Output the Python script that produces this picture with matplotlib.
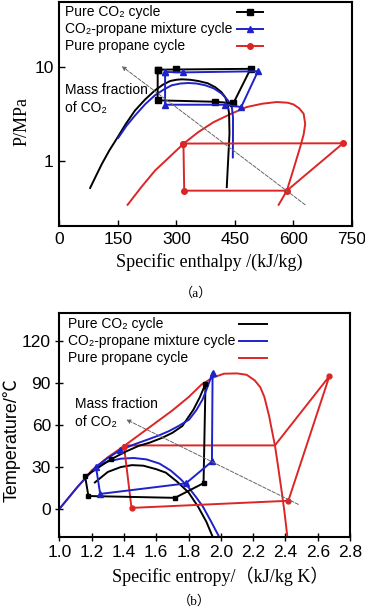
import matplotlib.pyplot as plt
from matplotlib.ticker import FixedLocator, NullLocator, FixedFormatter

plt.rcParams['font.family'] = ['Liberation Sans', 'DejaVu Sans']

SERIF = ['Liberation Serif', 'Noto Sans CJK SC']
SANS_CJK = ['Liberation Sans', 'Noto Sans CJK SC']

c_black = '#000000'
c_blue = '#1e22c8'
c_red = '#dc2626'

# ---------------- (a) P-h diagram ----------------
co2_dome_h = [79, 95, 109, 128, 147, 170, 194, 220, 245, 265, 284, 300, 314, 335, 356, 380, 399, 415, 425, 432, 435, 436, 433, 429]
co2_dome_p = [0.51, 0.7, 0.92, 1.28, 1.71, 2.45, 3.43, 4.5, 5.62, 6.45, 7.08, 7.3, 7.38, 7.3, 7.08, 6.7, 6.1, 5.4, 4.77, 3.9, 3.16, 1.93, 1.1, 0.52]

mix_dome_h = [151, 172, 194, 220, 245, 268, 288, 310, 331, 352, 374, 396, 416, 432, 442, 445, 445, 444.6]
mix_dome_p = [1.75, 2.35, 3.03, 4.0, 4.98, 5.75, 6.37, 6.65, 6.74, 6.65, 6.37, 5.9, 5.19, 4.4, 3.73, 2.9, 1.9, 1.08]

pro_dome_h = [175, 210, 245, 280, 318, 355, 395, 440, 480, 520, 557, 585, 600, 615, 626, 630, 626, 617, 600, 583, 562]
pro_dome_p = [0.337, 0.52, 0.78, 1.07, 1.51, 2.0, 2.57, 3.16, 3.73, 4.05, 4.22, 4.15, 3.98, 3.6, 3.16, 2.47, 1.9, 1.39, 0.81, 0.477, 0.337]

co2_cyc_h = [252, 298, 490, 446, 399, 252, 252]
co2_cyc_p = [9.35, 9.4, 9.55, 4.1, 4.25, 4.4, 9.35]

mix_cyc_h = [271, 318, 509, 466, 425, 271, 271]
mix_cyc_p = [8.84, 8.75, 9.0, 3.73, 3.95, 3.95, 8.84]

pro_cyc_h = [318, 727, 583, 320, 318]
pro_cyc_p = [1.52, 1.53, 0.477, 0.477, 1.52]

arrow_a_tail = (630, 0.337)
arrow_a_head = (160, 10.2)

# ---------------- (b) T-s diagram ----------------
co2_dome_s = [1.22, 1.3, 1.38, 1.45, 1.52, 1.6, 1.66, 1.73, 1.80, 1.86, 1.91, 1.95]
co2_dome_t = [19, 26.5, 30, 31.4, 31, 28.5, 26, 19.5, 11.9, 1.5, -9, -20]

mix_dome_s = [1.0, 1.11, 1.227, 1.3, 1.38, 1.46, 1.54, 1.62, 1.69, 1.75, 1.80, 1.85, 1.89, 1.94, 1.99]
mix_dome_t = [0, 15.5, 30.2, 34, 36, 36.5, 35.5, 32.5, 27.5, 21.5, 15.5, 8, 1.5, -9, -20]

pro_dome_s = [1.0, 1.1, 1.2, 1.3, 1.4, 1.5, 1.6, 1.7, 1.8, 1.88, 1.95, 2.02, 2.1, 2.16, 2.21,
              2.245, 2.27, 2.30, 2.315, 2.335, 2.35, 2.365, 2.38, 2.395, 2.412]
pro_dome_t = [0, 14, 27.5, 37, 45, 53.5, 62, 70.5, 80, 89, 94, 96.8, 97, 96, 92,
              87, 80, 66, 57, 45.5, 34, 22, 10, -3, -20]

co2_ts_s = [1.16, 1.18, 1.716, 1.893, 1.905, 1.87, 1.83, 1.762, 1.70, 1.638, 1.56, 1.492, 1.41, 1.32, 1.24, 1.16]
co2_ts_t = [23.3, 9.3, 8.0, 18.5, 89.5, 80, 71, 59.4, 54.5, 51, 47.5, 45.2, 41, 35.6, 29.5, 23.3]
co2_mark_s = [1.16, 1.18, 1.716, 1.893, 1.905, 1.32]
co2_mark_t = [23.3, 9.3, 8.0, 18.5, 89.5, 35.6]

mix_ts_s = [1.227, 1.253, 1.783, 1.945, 1.949, 1.92, 1.887, 1.85, 1.804, 1.74, 1.68, 1.62, 1.555, 1.47, 1.378, 1.3, 1.227]
mix_ts_t = [30.2, 10.8, 18.3, 34, 97.6, 88, 78.4, 71, 64, 59.5, 55.8, 52.8, 50, 46.5, 42.2, 36.5, 30.2]
mix_mark_s = [1.227, 1.253, 1.783, 1.945, 1.949, 1.378]
mix_mark_t = [30.2, 10.8, 18.3, 34, 97.6, 42.2]

pro_ts_s = [1.4, 2.335, 2.672, 2.418, 1.447, 1.4]
pro_ts_t = [45.5, 45.5, 95, 5.9, 0.8, 45.5]
pro_mark_s = [1.4, 2.672, 2.418, 1.447]
pro_mark_t = [44.7, 95, 5.9, 0.8]

arrow_b_tail = (2.48, 3.3)
arrow_b_head = (1.415, 64)

labels = ['Pure CO\u2082 cycle', 'CO\u2082-propane mixture cycle', 'Pure propane cycle']

fig = plt.figure(figsize=(3.65, 6.10), dpi=100)
ax1 = fig.add_axes([0.1625, 0.6295, 0.802, 0.368])
ax2 = fig.add_axes([0.1625, 0.1197, 0.7965, 0.3667])

lw = 1.4

# ---- plot (a)
ax1.plot(pro_dome_h, pro_dome_p, color=c_red, lw=lw)
ax1.plot(co2_dome_h, co2_dome_p, color=c_black, lw=lw)
ax1.plot(mix_dome_h, mix_dome_p, color=c_blue, lw=lw)
ax1.plot(co2_cyc_h, co2_cyc_p, color=c_black, lw=lw, marker='s', ms=4)
ax1.plot(mix_cyc_h, mix_cyc_p, color=c_blue, lw=lw, marker='^', ms=5)
ax1.plot(pro_cyc_h, pro_cyc_p, color=c_red, lw=lw, marker='o', ms=4)

ax1.annotate('', xy=arrow_a_head, xytext=arrow_a_tail,
             arrowprops=dict(arrowstyle='-|>', ls='--', color='#666666', lw=0.7,
                             mutation_scale=6, shrinkA=0, shrinkB=0))
ax1.text(14.6, 4.5, 'Mass fraction\nof CO\u2082', fontsize=10, ha='left', va='center', linespacing=1.35)

ax1.set_yscale('log')
ax1.set_xlim(0, 750)
ax1.set_ylim(0.2, 50)
ax1.xaxis.set_major_locator(FixedLocator([0, 150, 300, 450, 600, 750]))
ax1.yaxis.set_major_locator(FixedLocator([1, 10]))
ax1.yaxis.set_major_formatter(FixedFormatter(['1', '10']))
ax1.yaxis.set_minor_locator(NullLocator())
ax1.tick_params(direction='in', length=4, width=1, labelsize=12.5, pad=4)

ax1.set_xlabel('Specific enthalpy /(kJ/kg)', family=SERIF, fontsize=13)
ax1.set_ylabel('P/MPa', family=SERIF, fontsize=13)
ax1.xaxis.set_label_coords(0.511, -0.159)
ax1.xaxis.label.set_va('center')
ax1.yaxis.set_label_coords(-0.128, 0.465)
ax1.yaxis.label.set_va('center')

# manual legend, text left aligned and handles aligned on the right
ys = [0.954, 0.876, 0.801]
styles = [(c_black, 's', 4), (c_blue, '^', 5), (c_red, 'o', 4)]
for y, lab, (c, m, ms) in zip(ys, labels, styles):
    ax1.text(0.0195, y, lab, transform=ax1.transAxes, fontsize=10, ha='left', va='center')
    ax1.plot([0.606, 0.696], [y, y], transform=ax1.transAxes, color=c, lw=lw)
    ax1.plot([0.651], [y], transform=ax1.transAxes, color=c, marker=m, ms=ms)

# ---- plot (b)
ax2.plot(pro_dome_s, pro_dome_t, color=c_red, lw=lw)
ax2.plot(co2_dome_s, co2_dome_t, color=c_black, lw=lw)
ax2.plot(mix_dome_s, mix_dome_t, color=c_blue, lw=lw)
ax2.plot(pro_ts_s, pro_ts_t, color=c_red, lw=lw)
ax2.plot(co2_ts_s, co2_ts_t, color=c_black, lw=lw)
ax2.plot(mix_ts_s, mix_ts_t, color=c_blue, lw=lw)
ax2.plot(pro_mark_s, pro_mark_t, ls='none', color=c_red, marker='o', ms=3.5)
ax2.plot(co2_mark_s, co2_mark_t, ls='none', color=c_black, marker='s', ms=3.5)
ax2.plot(mix_mark_s, mix_mark_t, ls='none', color=c_blue, marker='^', ms=4.5)

ax2.annotate('', xy=arrow_b_head, xytext=arrow_b_tail,
             arrowprops=dict(arrowstyle='-|>', ls='--', color='#666666', lw=0.7,
                             mutation_scale=6, shrinkA=0, shrinkB=0))
ax2.text(1.098, 68.4, 'Mass fraction\nof CO\u2082', fontsize=10, ha='left', va='center', linespacing=1.35)

ax2.set_xlim(1.0, 2.8)
ax2.set_ylim(-20, 140)
ax2.xaxis.set_major_locator(FixedLocator([1.0, 1.2, 1.4, 1.6, 1.8, 2.0, 2.2, 2.4, 2.6, 2.8]))
ax2.yaxis.set_major_locator(FixedLocator([0, 30, 60, 90, 120]))
ax2.tick_params(direction='inout', length=6, width=1, labelsize=12.5, pad=3)
ax2.xaxis.set_major_formatter(plt.FuncFormatter(lambda v, p: f'{v:.1f}'))

ax2.set_xlabel('Specific entropy/\uff08kJ/kg K\uff09', family=SERIF, fontsize=13)
ax2.set_ylabel('Temperature/\u2103', family=SANS_CJK, fontsize=13)
ax2.xaxis.set_label_coords(0.553, -0.177)
ax2.xaxis.label.set_va('center')
ax2.yaxis.set_label_coords(-0.163, 0.434)
ax2.yaxis.label.set_va('center')

ys = [0.952, 0.874, 0.800]
for y, lab, c in zip(ys, labels, [c_black, c_blue, c_red]):
    ax2.text(0.031, y, lab, transform=ax2.transAxes, fontsize=10, ha='left', va='center')
    ax2.plot([0.619, 0.713], [y, y], transform=ax2.transAxes, color=c, lw=lw)

for ax in (ax1, ax2):
    for sp in ax.spines.values():
        sp.set_linewidth(1.5)

fig.text(195.7 / 365, 1 - 293.3 / 610, '\uff08a\uff09', family=SERIF, fontsize=9.5, ha='center', va='center')
fig.text(194 / 365, 1 - 601 / 610, '\uff08b\uff09', family=SERIF, fontsize=9.5, ha='center', va='center')

fig.savefig('out.png', dpi=100)
